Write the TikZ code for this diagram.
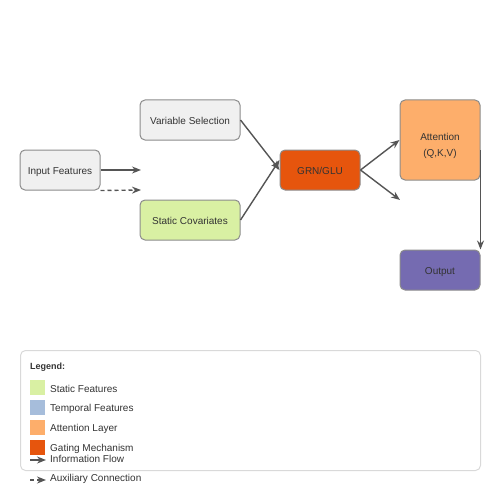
\documentclass[tikz,border=0pt]{standalone}
\usepackage{fontspec}
\setmainfont{Liberation Sans}
\usepackage{tikz}
\usetikzlibrary{arrows.meta}
\definecolor{boxgray}{HTML}{F0F0F0}
\definecolor{staticgreen}{HTML}{D9F0A3}
\definecolor{tempblue}{HTML}{A6BDDB}
\definecolor{attnorange}{HTML}{FDAE6B}
\definecolor{gateorange}{HTML}{E6550D}
\definecolor{outpurple}{HTML}{756BB1}
\definecolor{edgegray}{HTML}{555555}
\definecolor{txt}{HTML}{333333}
\tikzset{
  boxtext/.style={inner sep=0pt, text=txt, align=center, font=\fontsize{10}{16}\selectfont},
  box/.style={boxtext, draw=gray!90, line width=1pt, rounded corners=5pt, minimum width=80pt,
    minimum height=40pt, text height=9pt, text depth=0pt},
  swatch/.style={minimum size=15pt, inner sep=0pt, anchor=north west},
  legtext/.style={anchor=west, inner sep=0pt, text=txt, font=\fontsize{10}{12}\selectfont},
  flow/.style={-{Stealth[length=9pt,width=7pt]}, draw=edgegray, line width=1.4pt},
  aux/.style={flow, dash pattern=on 4pt off 3pt}
}
\begin{document}
\begin{tikzpicture}[x=1pt,y=-1pt]
  \useasboundingbox (0,0) rectangle (500,500);
  \node[box, fill=boxgray] (in) at (60,170) {Input Features};
  \node[box, fill=boxgray, minimum width=100pt] (vs) at (190,120) {Variable Selection};
  \node[box, fill=staticgreen, minimum width=100pt] (sc) at (190,220) {Static Covariates};
  \node[box, fill=gateorange] (grn) at (320,170) {GRN/GLU};
  \node[box, fill=attnorange, minimum height=80pt] (att) at (440,140) {};
  \node[boxtext] (atttext) at (440,146) {Attention\\(Q,K,V)};
  \node[box, fill=outpurple] (out) at (440,270) {Output};
  \coordinate (flowend) at (141,170);
  \coordinate (auxend) at (141,190);
  \coordinate (grnend) at (400,200);
  \draw[flow] (in.east) -- (flowend);
  \draw[aux] (in.south east) -- (auxend);
  \draw[flow] (vs.east) -- (grn.west);
  \draw[flow] (sc.east) -- ([yshift=10pt]grn.west);
  \draw[flow] (grn.east) -- (att.west);
  \draw[flow] (grn.east) -- (grnend);
  \draw[flow] ([yshift=-10pt]att.east) -- (out.north east);
  % legend
  \node[draw=gray!30, line width=1pt, rounded corners=5pt, minimum width=460pt,
    minimum height=120pt, anchor=north west] (legend) at (20,350) {};
  \node[legtext, font=\fontsize{9}{11}\selectfont\bfseries] (legtitle) at (30,367) {Legend:};
  \node[swatch, fill=staticgreen] (sw1) at (30,380) {};
  \node[swatch, fill=tempblue] (sw2) at (30,400) {};
  \node[swatch, fill=attnorange] (sw3) at (30,420) {};
  \node[swatch, fill=gateorange] (sw4) at (30,440) {};
  \node[legtext] (lt1) at (50,389) {Static Features};
  \node[legtext] (lt2) at (50,409) {Temporal Features};
  \node[legtext] (lt3) at (50,429) {Attention Layer};
  \node[legtext] (lt4) at (50,449) {Gating Mechanism};
  \node[legtext] (lt5) at (50,459) {Information Flow};
  \node[legtext] (lt6) at (50,479) {Auxiliary Connection};
  \coordinate (flowkey) at (30,460);
  \coordinate (auxkey) at (30,480);
  \draw[flow] (flowkey) -- (46,460);
  \draw[aux] (auxkey) -- (46,480);
\end{tikzpicture}
\end{document}
